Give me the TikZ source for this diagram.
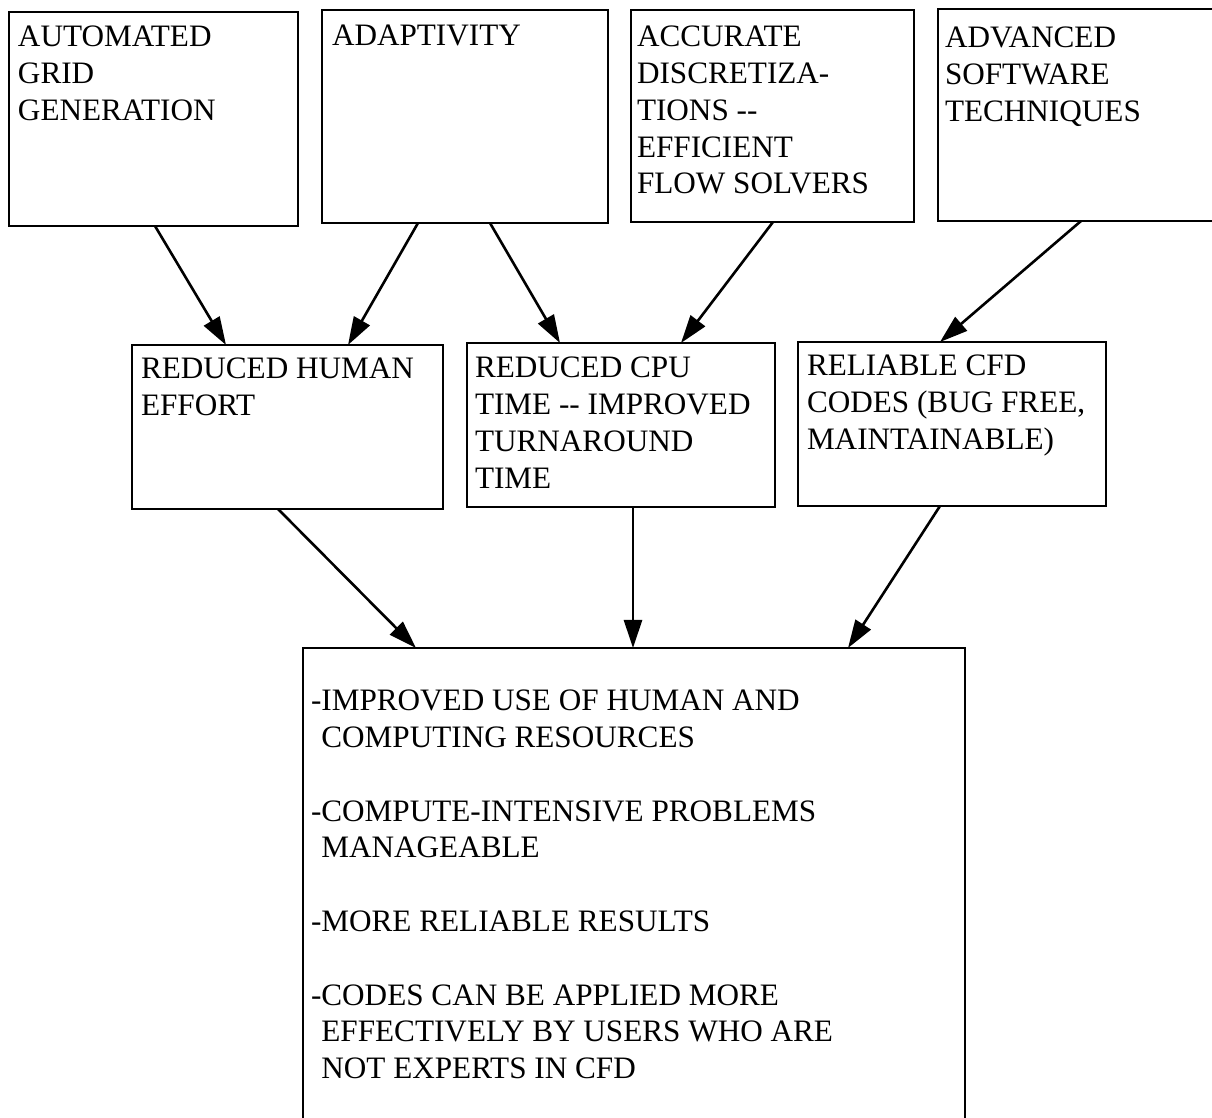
\documentclass[tikz,border=0pt]{standalone}
\usepackage{fontspec}
\setmainfont{Liberation Serif}
\usetikzlibrary{arrows.meta,calc}
\newcommand{\bxt}[4]{\parbox[c][#2][t]{#1}{\vspace*{#3}#4}}
\newcommand{\dd}{\mbox{-}\mbox{-}}
\tikzset{
  box/.style={draw, line width=0.9pt, anchor=north west, inner ysep=0pt, outer sep=0pt,
    font=\fontsize{15.6pt}{18.4pt}\selectfont},
  arr/.style={line width=1.3pt, -{Triangle[length=14pt,width=9pt]}}
}
\begin{document}
\begin{tikzpicture}[x=0.5pt,y=-0.5pt]
\useasboundingbox (0,0) rectangle (1212,1118);
\fill[white] (0,0) rectangle (1212,1118);
% top row
\node[box, inner xsep=4.5pt] (A) at (9,12) {\bxt{135.5pt}{107pt}{7pt}{AUTOMATED\\GRID\\GENERATION}};
\node[box, inner xsep=5pt] (B) at (322,10) {\bxt{133pt}{106.5pt}{7.5pt}{ADAPTIVITY}};
\node[box, inner xsep=3pt] (C) at (631,10) {\bxt{135.5pt}{106pt}{8pt}{ACCURATE\\DISCRETIZA-\\TIONS \dd\\EFFICIENT\\FLOW SOLVERS}};
\node[box, inner xsep=3.5pt] (D) at (938,9) {\bxt{133pt}{106pt}{9pt}{ADVANCED\\SOFTWARE\\TECHNIQUES}};
% middle row
\node[box, inner xsep=4.5pt] (E) at (132,345) {\bxt{146.5pt}{82pt}{6.5pt}{REDUCED HUMAN\\EFFORT}};
\node[box, inner xsep=4pt] (F) at (467,343) {\bxt{146pt}{82pt}{7pt}{REDUCED CPU\\TIME \dd\ IMPROVED\\TURNAROUND\\TIME}};
\node[box, inner xsep=4.5pt] (G) at (798,342) {\bxt{145pt}{82pt}{6.5pt}{RELIABLE CFD\\CODES (BUG FREE,\\MAINTAINABLE)}};
% bottom
\node[box, inner xsep=4pt] (H) at (303,648) {\bxt{323pt}{241pt}{21pt}{%
-IMPROVED USE OF HUMAN AND\\
\hphantom{-}COMPUTING RESOURCES\\[\baselineskip]
-COMPUTE-INTENSIVE PROBLEMS\\
\hphantom{-}MANAGEABLE\\[\baselineskip]
-MORE RELIABLE RESULTS\\[\baselineskip]
-CODES CAN BE APPLIED MORE\\
\hphantom{-}EFFECTIVELY BY USERS WHO ARE\\
\hphantom{-}NOT EXPERTS IN CFD}};
% connectors
\draw[arr] ($(A.south west)+(146,0)$) -- ($(E.north west)+(94,0)$);
\draw[arr] ($(B.south west)+(96,0)$) -- ($(E.north west)+(216,0)$);
\draw[arr] ($(B.south west)+(168,0)$) -- ($(F.north west)+(93,0)$);
\draw[arr] ($(C.south west)+(142,0)$) -- ($(F.north west)+(214,0)$);
\draw[arr] ($(D.south west)+(143,0)$) -- ($(G.north west)+(142,0)$);
\draw[arr] ($(E.south west)+(146,0)$) -- ($(H.north west)+(113,0)$);
\draw[arr] ($(F.south west)+(166,0)$) -- ($(H.north west)+(330,0)$);
\draw[arr] ($(G.south west)+(142,0)$) -- ($(H.north west)+(545,0)$);
\end{tikzpicture}
\end{document}
